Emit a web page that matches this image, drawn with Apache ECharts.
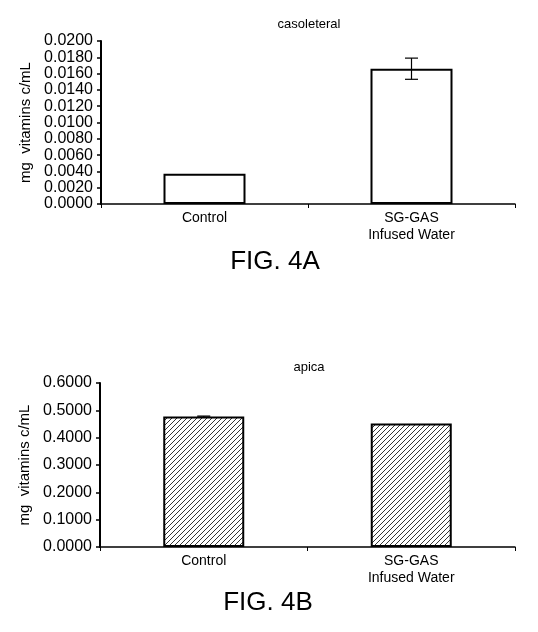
<!DOCTYPE html>
<html><head><meta charset="utf-8">
<script src="https://cdn.jsdelivr.net/npm/echarts@6/dist/echarts.min.js"></script>
<style>html,body{margin:0;padding:0;background:#fff}#c{width:538px;height:632px}</style>
</head><body><div id="c"></div>
<script>
// ---- data ----
const categories = ['Control', 'SG-GAS\nInfused Water'];
const basolateralValues = [0.0037, 0.0166];
const basolateralErrors = [0, 0.0013];
const apicalValues = [0.477, 0.452];
const apicalErrors = [0.002, 0];
const titleA = 'casoleteral';
const titleB = 'apica';
const figA = 'FIG. 4A';
const figB = 'FIG. 4B';
const yName = 'mg  vitamins c/mL';
const yAxisA = { min: 0, max: 0.02, interval: 0.002 };
const yAxisB = { min: 0, max: 0.6, interval: 0.1 };

const FONT = 'Liberation Sans, Arial, sans-serif';

function hatch() {
  const s = 5;
  const c = document.createElement('canvas');
  c.width = s; c.height = s;
  const g = c.getContext('2d');
  g.fillStyle = '#fff'; g.fillRect(0, 0, s, s);
  g.strokeStyle = '#000'; g.lineWidth = 0.8;
  g.beginPath();
  g.moveTo(-1, s + 1); g.lineTo(s + 1, -1);
  g.moveTo(-1, 1); g.lineTo(1, -1);
  g.moveTo(s - 1, s + 1); g.lineTo(s + 1, s - 1);
  g.stroke();
  return c;
}

function xAxis(gridIndex) {
  return {
    type: 'category', gridIndex, data: categories,
    boundaryGap: true,
    axisLine: { lineStyle: { color: '#000', width: 1.5 } },
    axisTick: { show: true, length: 4, lineStyle: { color: '#000', width: 1 }, alignWithLabel: false },
    axisLabel: { color: '#000', fontFamily: FONT, fontSize: 14, lineHeight: 17, margin: 6 },
    splitLine: { show: false }
  };
}
function yAxis(gridIndex, cfg) {
  return {
    type: 'value', gridIndex, min: cfg.min, max: cfg.max, interval: cfg.interval,
    name: yName, nameLocation: 'middle', nameGap: 62, nameRotate: 90,
    nameTextStyle: { color: '#000', fontFamily: FONT, fontSize: 15 },
    axisLine: { show: true, lineStyle: { color: '#000', width: 2 } },
    axisTick: { show: true, length: 4, lineStyle: { color: '#000', width: 1.5 } },
    axisLabel: { color: '#000', fontFamily: FONT, fontSize: 16, margin: 8, hideOverlap: false,
      formatter: v => v.toFixed(4) },
    splitLine: { show: false }
  };
}
function errSeries(idx, vals, errs) {
  return {
    type: 'custom', xAxisIndex: idx, yAxisIndex: idx, z: 5,
    data: vals.map((v, i) => [i, v - errs[i], v + errs[i]]),
    encode: { x: 0, y: [1, 2] },
    renderItem(params, api) {
      const i = api.value(0), lo = api.value(1), hi = api.value(2);
      if (!(hi > lo)) return null;
      const a = api.coord([i, hi]), b = api.coord([i, lo]);
      const w = 6.5;
      const st = { stroke: '#000', lineWidth: 1.2 };
      return { type: 'group', children: [
        { type: 'line', shape: { x1: a[0], y1: a[1], x2: b[0], y2: b[1] }, style: st },
        { type: 'line', shape: { x1: a[0] - w, y1: a[1], x2: a[0] + w, y2: a[1] }, style: st },
        { type: 'line', shape: { x1: b[0] - w, y1: b[1], x2: b[0] + w, y2: b[1] }, style: st }
      ]};
    }
  };
}

const chart = echarts.init(document.getElementById('c'), null, { renderer: 'canvas' });
chart.setOption({
  backgroundColor: '#fff',
  animation: false,
  grid: [
    { left: 101, top: 41, width: 414, height: 163 },
    { left: 100, top: 383, width: 415, height: 164 }
  ],
  xAxis: [xAxis(0), xAxis(1)],
  yAxis: [yAxis(0, yAxisA), yAxis(1, yAxisB)],
  series: [
    { type: 'bar', xAxisIndex: 0, yAxisIndex: 0, data: basolateralValues, barWidth: 82,
      itemStyle: { color: '#fff', borderColor: '#000', borderWidth: 2 } },
    errSeries(0, basolateralValues, basolateralErrors),
    { type: 'bar', xAxisIndex: 1, yAxisIndex: 1, data: apicalValues, barWidth: 81,
      itemStyle: { color: { image: hatch(), repeat: 'repeat' }, borderColor: '#000', borderWidth: 2 } },
    errSeries(1, apicalValues, apicalErrors)
  ],
  graphic: [
    { type: 'text', x: 309, y: 24, style: { text: titleA, font: '13px ' + FONT, fill: '#000', align: 'center', verticalAlign: 'middle' } },
    { type: 'text', x: 309, y: 367, style: { text: titleB, font: '13px ' + FONT, fill: '#000', align: 'center', verticalAlign: 'middle' } },
    { type: 'text', x: 275, y: 262, style: { text: figA, font: '26px ' + FONT, fill: '#000', align: 'center', verticalAlign: 'middle' } },
    { type: 'text', x: 268, y: 603, style: { text: figB, font: '26px ' + FONT, fill: '#000', align: 'center', verticalAlign: 'middle' } }
  ]
});
</script></body></html>
